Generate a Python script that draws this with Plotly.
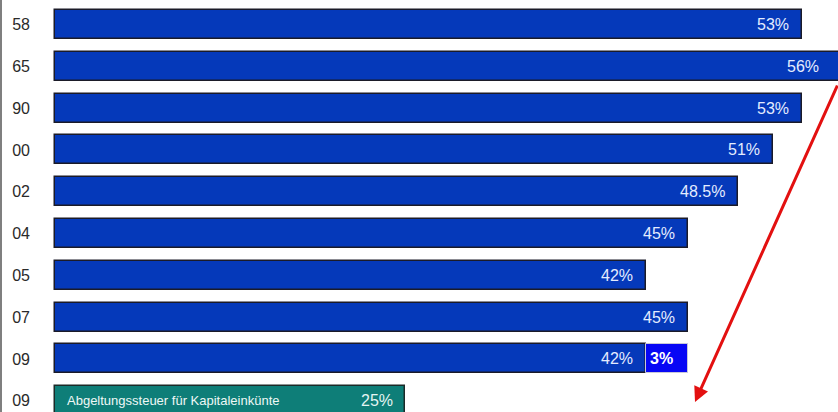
import plotly.graph_objects as go

# ---- data ----
years = ["58", "65", "90", "00", "02", "04", "05", "07", "09", "09"]
rates = [53, 56, 53, 51, 48.5, 45, 42, 45, 42]          # Spitzensteuersatz
rate_labels = ["53%", "56%", "53%", "51%", "48.5%", "45%", "42%", "45%", "42%"]
surcharge = 3                                            # 2009 "Reichensteuer"
surcharge_label = "3%"
flat_tax = 25                                            # Abgeltungssteuer
flat_tax_label = "25%"
flat_tax_name = "Abgeltungssteuer für Kapitaleinkünte"

BASE = 0.36
X_MAX = 55.57
n_main = len(rates)
rows = list(range(len(years)))
W, H, L = 788, 412, 50
PX = W / X_MAX

fig = go.Figure()

fig.add_trace(go.Bar(
    y=rows[:n_main], x=[r - BASE for r in rates], base=[BASE] * n_main,
    orientation="h", width=0.69,
    marker=dict(color="#0539BA", line=dict(color="#1b1b28", width=1.5)),
    hoverinfo="skip",
))
fig.add_trace(go.Bar(
    y=[rows[n_main - 1]], x=[surcharge], base=[rates[-1]],
    orientation="h", width=0.69,
    marker=dict(color="#0707F5", line=dict(color="#c8c8d8", width=1)),
    hoverinfo="skip",
))
fig.add_trace(go.Bar(
    y=[rows[-1]], x=[flat_tax - BASE], base=[BASE],
    orientation="h", width=0.69,
    marker=dict(color="#0E7E78", line=dict(color="#1b2a28", width=1.5)),
    hoverinfo="skip",
))

annotations = []
for i, (v, lab) in enumerate(zip(rates, rate_labels)):
    over = max(0.0, v - X_MAX)
    annotations.append(dict(
        x=min(v, X_MAX), y=i, xref="x", yref="y", text=lab, showarrow=False,
        xanchor="right", xshift=-11 - over * PX,
        font=dict(family="Liberation Sans", size=16, color="#E4ECFF"),
    ))
annotations.append(dict(
    x=rates[-1], y=n_main - 1, xref="x", yref="y", text="<b>" + surcharge_label + "</b>",
    showarrow=False, xanchor="left", xshift=2,
    font=dict(family="Liberation Sans", size=16, color="#FFFFFF"),
))
annotations.append(dict(
    x=flat_tax, y=len(years) - 1, xref="x", yref="y", text=flat_tax_label,
    showarrow=False, xanchor="right", xshift=-10,
    font=dict(family="Liberation Sans", size=16, color="#E4F4F2"),
))
annotations.append(dict(
    x=BASE, y=len(years) - 1, xref="x", yref="y", text=flat_tax_name,
    showarrow=False, xanchor="left", xshift=10,
    font=dict(family="Liberation Sans", size=13, color="#EEF8F6"),
))
# red arrow
annotations.append(dict(
    x=(695 - L) / W, y=1 - 402 / H, xref="paper", yref="paper",
    ax=842 - 695, ay=84 - 402, axref="pixel", ayref="pixel",
    text="", showarrow=True, arrowhead=2, arrowsize=1.0, arrowwidth=3,
    arrowcolor="#E31010",
))

fig.update_layout(
    width=838, height=412,
    margin=dict(l=L, r=0, t=0, b=0),
    paper_bgcolor="white", plot_bgcolor="white",
    barmode="overlay", showlegend=False, bargap=0,
    xaxis=dict(range=[0, X_MAX], visible=False, fixedrange=True),
    yaxis=dict(range=[9.27, -0.586], tickvals=rows, ticktext=years,
               showgrid=False, zeroline=False, showline=False, ticks="",
               ticklabelstandoff=19,
               tickfont=dict(family="Liberation Sans", size=16, color="#2a2a2a")),
    annotations=annotations,
    shapes=[dict(type="line", xref="paper", yref="paper",
                 x0=-(L - 1) / W, x1=-(L - 1) / W, y0=0, y1=1,
                 line=dict(color="#555555", width=1.5))],
)

fig.write_html("out.html")
